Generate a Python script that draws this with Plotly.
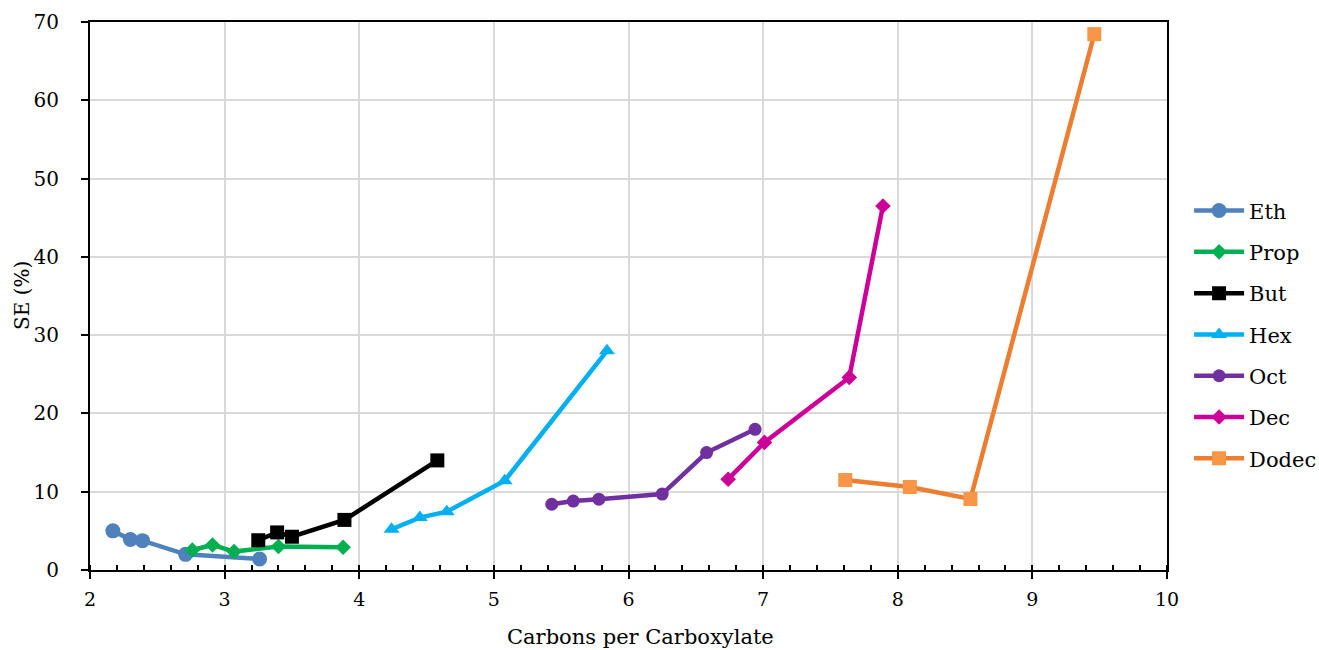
import plotly.graph_objects as go

eth_x = [2.17, 2.30, 2.39, 2.71, 3.26]
eth_y = [5.0, 3.9, 3.75, 2.0, 1.4]
prop_x = [2.76, 2.91, 3.07, 3.40, 3.88]
prop_y = [2.55, 3.2, 2.35, 3.0, 2.9]
but_x = [3.25, 3.39, 3.50, 3.89, 4.58]
but_y = [3.8, 4.8, 4.25, 6.4, 14.0]
hex_x = [4.24, 4.45, 4.65, 5.08, 5.84]
hex_y = [5.2, 6.7, 7.45, 11.4, 28.0]
oct_x = [5.43, 5.59, 5.78, 6.25, 6.58, 6.94]
oct_y = [8.4, 8.8, 9.05, 9.7, 15.0, 17.97]
dec_x = [6.74, 7.01, 7.64, 7.89]
dec_y = [11.6, 16.3, 24.6, 46.5]
dodec_x = [7.61, 8.09, 8.54, 9.46]
dodec_y = [11.5, 10.6, 9.07, 68.45]

x_title = "Carbons per Carboxylate"
y_title = "SE (%)"

series = [
    ("Eth", eth_x, eth_y, "#4F81BD", "#4F81BD", "circle", 15),
    ("Prop", prop_x, prop_y, "#00B050", "#00B050", "diamond", 12),
    ("But", but_x, but_y, "#000000", "#000000", "square", 14),
    ("Hex", hex_x, hex_y, "#00B0F0", "#00B0F0", "triangle-up", 14),
    ("Oct", oct_x, oct_y, "#7030A0", "#7030A0", "circle", 13),
    ("Dec", dec_x, dec_y, "#CC0099", "#CC0099", "diamond", 12),
    ("Dodec", dodec_x, dodec_y, "#ED7D31", "#F79646", "square", 14),
]

fig = go.Figure()
for i, (name, xs, ys, lc, mc, sym, sz) in enumerate(series):
    fig.add_trace(go.Scatter(
        x=xs, y=ys, name=name, mode="lines+markers",
        line=dict(color=lc, width=4.5),
        marker=dict(color=mc, symbol=sym, size=sz, line=dict(width=0)),
        legendgroup=f"g{i}",
    ))

font_family = "DejaVu Serif"
fig.update_layout(
    width=1319, height=650,
    margin=dict(l=90, r=152, t=22, b=80, autoexpand=False),
    paper_bgcolor="white", plot_bgcolor="white",
    font=dict(family=font_family, size=18, color="#000000"),
    legend=dict(x=1.0205, y=0.429, xanchor="left", yanchor="middle",
                font=dict(size=21, family=font_family),
                tracegroupgap=11, itemwidth=50),
    xaxis=dict(
        range=[2, 10], dtick=1, tick0=2,
        showgrid=True, gridcolor="#D9D9D9", gridwidth=2,
        showline=True, linecolor="#000000", linewidth=2, mirror=True,
        ticks="outside", ticklen=7, tickwidth=2, tickcolor="#000000",
        minor=dict(dtick=0.2, ticks="inside", ticklen=5, tickwidth=1.5,
                   tickcolor="#000000", showgrid=False),
        zeroline=False,
        tickfont=dict(size=19),
        ticklabelstandoff=4,
    ),
    yaxis=dict(
        range=[0, 70], dtick=10,
        showgrid=True, gridcolor="#D9D9D9", gridwidth=2,
        showline=True, linecolor="#000000", linewidth=2, mirror=True,
        ticks="outside", ticklen=7, tickwidth=2, tickcolor="#000000",
        zeroline=False,
        tickfont=dict(size=20),
        ticklabelstandoff=18,
    ),
    annotations=[
        dict(text=x_title, xref="paper", yref="paper",
             x=(640 - 90) / 1077, y=-(637 - 570) / 548,
             xanchor="center", yanchor="middle", showarrow=False,
             font=dict(size=21, family=font_family)),
        dict(text=y_title, xref="paper", yref="paper",
             x=-(90 - 22) / 1077, y=(570 - 296) / 548,
             xanchor="center", yanchor="middle", showarrow=False,
             textangle=-90, font=dict(size=20, family=font_family)),
    ],
)

fig.write_html("out.html")
